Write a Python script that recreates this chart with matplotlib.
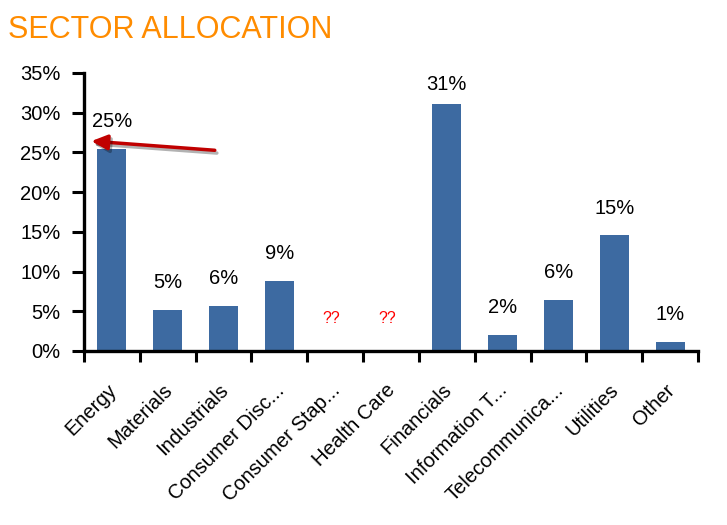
import numpy as np
import matplotlib.pyplot as plt
from matplotlib.ticker import MultipleLocator, FuncFormatter
import matplotlib.patheffects as pe

plt.rcParams['font.family'] = ['Liberation Sans', 'DejaVu Sans']

sectors = ['Energy', 'Materials', 'Industrials', 'Consumer Disc...', 'Consumer Stap...',
           'Health Care', 'Financials', 'Information T...', 'Telecommunica...',
           'Utilities', 'Other']
weights = [25.4, 5.2, 5.7, 8.8, None, None, 31.1, 2.0, 6.4, 14.55, 1.1]
missing_label = '??'

bar_color = '#3D6AA1'

fig = plt.figure(figsize=(7.27, 5.25), dpi=100)
ax = fig.add_axes([84/727, 1-351/525, 614/727, 278/525])

x = np.arange(len(sectors))
vals = [w if w is not None else 0 for w in weights]
ax.bar(x, vals, width=0.52, color=bar_color, zorder=2)

for i, w in enumerate(weights):
    if w is None:
        ax.text(i - 0.07, 4.1, missing_label, ha='center', va='center', color='red', fontsize=11.5)
    else:
        y = min(w + 3.45, 33.5)
        ax.text(i, y, f'{w:.0f}%', ha='center', va='center', fontsize=14.5)

ax.set_xlim(-0.5, len(sectors) - 0.5)
ax.set_ylim(0, 35)
ax.yaxis.set_major_locator(MultipleLocator(5))
ax.yaxis.set_major_formatter(FuncFormatter(lambda v, p: f'{v:.0f}%'))

# labels sit a little right of the bar centre, like the excel export
ax.set_xticks(x + 0.1)
ax.set_xticklabels(sectors, rotation=45, ha='right', va='baseline',
                   rotation_mode='anchor', fontsize=14.5)
ax.set_xticks(np.arange(len(sectors) + 1) - 0.5, minor=True)
ax.tick_params(axis='x', which='major', length=0, pad=29)
ax.tick_params(axis='x', which='minor', length=8, width=2.2, direction='out')
ax.tick_params(axis='y', length=8.5, width=2.2, direction='out', pad=8.5, labelsize=14.5)

for s in ['top', 'right']:
    ax.spines[s].set_visible(False)
for s in ['left', 'bottom']:
    ax.spines[s].set_linewidth(2.4)

# red arrow pointing at the energy bar
ax.annotate('', xy=(0.012, 0.755), xycoords='axes fraction',
            xytext=(0.213, 0.722), textcoords='axes fraction',
            arrowprops=dict(arrowstyle='-|>,head_length=0.95,head_width=0.45',
                            color='#C00000', lw=2.5, shrinkA=0, shrinkB=0,
                            path_effects=[pe.SimpleLineShadow(offset=(1.5, -2), alpha=0.3),
                                          pe.Normal()]))

fig.text(8/727, 1-38/525, 'SECTOR ALLOCATION', color='#FF8C00', fontsize=22,
         ha='left', va='baseline')

fig.savefig('out.png', dpi=100)
